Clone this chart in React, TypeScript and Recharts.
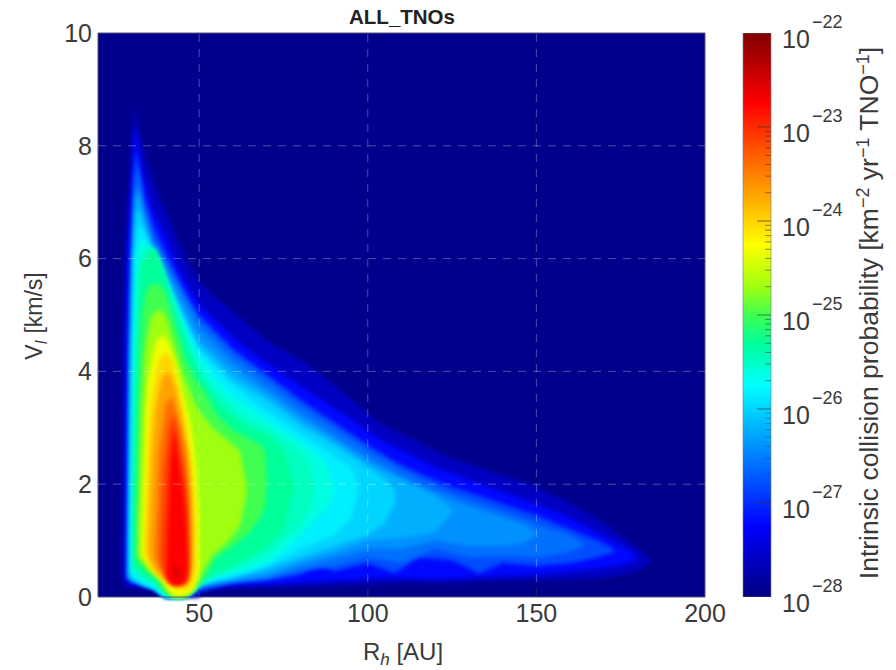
import {
  Area,
  Bar,
  ComposedChart,
  ReferenceArea,
  ReferenceLine,
  XAxis,
  YAxis,
} from 'recharts'

const FONT = '"Liberation Sans", Arial, sans-serif'
const INK = '#3a3a3a'

const rTicks = [50, 100, 150, 200]
const vTicks = [0, 2, 4, 6, 8, 10]
const rGrid = [50, 100, 150]
const vGrid = [2, 4, 6, 8]
const decades = [-28, -27, -26, -25, -24, -23, -22]
const minorOffsets = [0.301, 0.477, 0.602, 0.699, 0.778, 0.845, 0.903, 0.954]
const minorDecades = [-27, -26, -25, -24]

// contour bands, outermost first (log10 probability)
const rA = [27, 27.5, 28, 29, 30, 30.6, 32, 34, 38, 39.5, 40, 41, 46, 49.5, 50, 52, 59, 70, 80, 85, 90, 103, 115, 123, 135, 148, 158, 165, 172, 177, 181, 184]
const hiA = [0.9, 4.9, 6, 7.2, 8, 8.75, 8.3, 7.8, 7.1, 6.9, 6.85, 6.7, 6, 5.65, 5.6, 5.45, 5.1, 4.55, 4.2, 4, 3.75, 3.1, 2.75, 2.5, 2.25, 2, 1.72, 1.5, 1.22, 1, 0.82, 0.65]
const loA = [0.5, 0.3, 0.18, 0.17, 0.17, 0.17, 0.16, 0.15, 0.14, 0.12, 0, 0, 0, 0, 0, 0.13, 0.16, 0.17, 0.18, 0.2, 0.2, 0.24, 0.26, 0.24, 0.28, 0.3, 0.3, 0.32, 0.36, 0.42, 0.5, 0.63]

const rB = [28, 28.5, 29, 30, 30.8, 31.5, 33, 36, 39, 40, 44, 49.5, 50.5, 55, 65, 75, 85, 95, 105, 120, 135, 150, 160, 168, 174, 178, 180]
const hiB = [0.8, 5, 6.2, 7.2, 8.3, 8.2, 7.5, 6.9, 6.5, 6.4, 5.8, 5.25, 5.15, 4.9, 4.35, 3.95, 3.55, 3.15, 2.75, 2.3, 1.97, 1.65, 1.4, 1.15, 0.95, 0.82, 0.7]
const loB = [0.4, 0.28, 0.24, 0.22, 0.22, 0.22, 0.2, 0.18, 0.15, 0, 0, 0, 0.16, 0.2, 0.22, 0.24, 0.28, 0.3, 0.34, 0.32, 0.36, 0.4, 0.45, 0.5, 0.55, 0.62, 0.68]

const rC = [28.5, 29, 29.5, 30.5, 31.2, 32, 34, 37, 40, 45, 50, 60, 70, 80, 85, 90, 100, 108, 115, 125, 133, 140, 150, 160, 168, 173]
const hiC = [0.7, 4.5, 6, 7.4, 7.9, 7.7, 7, 6.5, 6.1, 5.5, 5, 4.4, 3.95, 3.5, 3.3, 3.1, 2.7, 2.4, 2.2, 1.95, 1.8, 1.65, 1.45, 1.2, 1, 0.85]
const loC = [0.35, 0.3, 0.28, 0.26, 0.25, 0.24, 0.2, 0.16, 0, 0, 0.1, 0.25, 0.3, 0.4, 0.6, 0.45, 0.6, 0.42, 0.7, 0.65, 0.42, 0.6, 0.55, 0.6, 0.7, 0.8]

const rC2 = [29, 29.5, 30.2, 31, 31.5, 33, 36, 40, 45, 50, 60, 70, 80, 90, 100, 110, 120, 130, 140, 150, 160, 164]
const hiC2 = [0.75, 4.4, 5.8, 7.2, 7.6, 7.1, 6.4, 6, 5.4, 4.9, 4.3, 3.85, 3.4, 3, 2.6, 2.25, 1.95, 1.72, 1.52, 1.3, 1.1, 0.95]
const loC2 = [0.36, 0.32, 0.29, 0.27, 0.26, 0.24, 0.18, 0, 0, 0.15, 0.27, 0.33, 0.45, 0.55, 0.7, 0.6, 0.85, 0.7, 0.72, 0.7, 0.8, 0.9]

const rD = [29, 29.5, 30, 31, 31.6, 33, 36, 40, 45, 50, 60, 70, 80, 90, 100, 110, 120, 130, 140, 146, 150]
const hiD = [0.8, 4.2, 5.5, 7, 7.3, 6.9, 6.3, 5.85, 5.3, 4.75, 4.15, 3.7, 3.25, 2.85, 2.45, 2.12, 1.85, 1.62, 1.42, 1.3, 1.15]
const loD = [0.38, 0.34, 0.3, 0.28, 0.27, 0.25, 0.18, 0, 0, 0.2, 0.28, 0.35, 0.55, 0.7, 0.85, 0.85, 1, 0.9, 0.9, 0.95, 1.1]

const rD2 = [29.3, 29.8, 30.4, 31.2, 31.8, 33, 36, 40, 45, 50, 60, 70, 80, 90, 100, 110, 120, 125]
const hiD2 = [0.9, 4.1, 5.8, 7, 7.2, 6.8, 6.2, 5.75, 5.15, 4.55, 4, 3.6, 3.15, 2.78, 2.38, 2.08, 1.8, 1.55]
const loD2 = [0.36, 0.33, 0.3, 0.28, 0.27, 0.22, 0.16, 0, 0, 0.22, 0.32, 0.42, 0.62, 0.8, 1, 1.05, 1.15, 1.5]

const rE = [29.5, 30, 30.6, 31.4, 32, 34, 37, 40, 45, 50, 60, 70, 80, 90, 100, 105, 108]
const hiE = [1, 4, 6, 6.8, 6.9, 6.5, 6.05, 5.6, 5, 4.45, 3.85, 3.5, 3.05, 2.7, 2.3, 2.1, 1.9]
const loE = [0.35, 0.32, 0.3, 0.28, 0.26, 0.2, 0.14, 0, 0, 0.25, 0.35, 0.5, 0.7, 0.9, 1.1, 1.3, 1.65]

const rE2 = [29.8, 30.4, 31, 31.8, 32.5, 34, 37, 40, 45, 50, 60, 70, 80, 90, 95, 97]
const hiE2 = [1, 4, 6, 6.5, 6.6, 6.4, 6, 5.5, 4.9, 4.35, 3.75, 3.3, 2.9, 2.5, 2.3, 2]
const loE2 = [0.4, 0.36, 0.33, 0.3, 0.27, 0.22, 0.16, 0, 0, 0.23, 0.36, 0.55, 0.85, 1.1, 1.4, 1.85]

const rF = [30, 30.6, 31.5, 32.5, 34, 37, 39, 42, 46, 50, 55, 60, 65, 70, 75, 80, 85, 88, 90]
const hiF = [1, 4, 6, 6.3, 6.3, 6, 5.8, 5.4, 4.8, 4.25, 3.85, 3.55, 3.35, 3.15, 2.95, 2.75, 2.55, 2.3, 2]
const loF = [0.45, 0.42, 0.38, 0.33, 0.28, 0.2, 0.08, 0, 0, 0.2, 0.35, 0.42, 0.5, 0.6, 0.8, 1.1, 1.4, 1.6, 1.9]

const rF2 = [30.3, 31, 32, 33, 35, 37, 39, 42, 46, 50, 55, 60, 65, 70, 75, 80, 83, 84]
const hiF2 = [1.1, 3.8, 5.8, 6.1, 6.2, 6.1, 5.85, 5.3, 4.65, 4.05, 3.65, 3.35, 3.15, 3, 2.8, 2.6, 2.3, 2]
const loF2 = [0.5, 0.45, 0.4, 0.35, 0.3, 0.22, 0.09, 0, 0, 0.22, 0.38, 0.48, 0.6, 0.75, 1, 1.25, 1.6, 1.85]

const rG = [30.6, 31.2, 32, 33, 35, 37, 39, 42, 46, 50, 55, 60, 65, 70, 75, 78]
const hiG = [1.2, 3.6, 5.4, 5.9, 6.1, 6.2, 5.9, 5.2, 4.5, 3.95, 3.5, 3.2, 3, 2.9, 2.6, 2]
const loG = [0.55, 0.5, 0.45, 0.4, 0.33, 0.25, 0.1, 0, 0, 0.25, 0.42, 0.55, 0.7, 0.9, 1.2, 1.9]

const rH = [31.2, 32, 33, 34.5, 36, 38, 40, 42, 46, 49, 52, 55, 60, 65, 68, 69.5, 70]
const hiH = [1.4, 3.6, 5, 5.45, 5.55, 5.55, 5.4, 5, 4.2, 3.85, 3.6, 3.25, 2.95, 2.8, 2.7, 2.6, 2.1]
const loH = [0.65, 0.6, 0.55, 0.45, 0.38, 0.28, 0.1, 0, 0, 0.12, 0.38, 0.7, 0.9, 1.15, 1.4, 1.6, 2]

const rI = [32, 33, 34, 36, 38, 40, 42, 45, 48, 50, 54, 58, 62, 64]
const hiI = [1.2, 3.4, 4.4, 5, 5.1, 5, 4.6, 4, 3.55, 3.3, 3, 2.8, 2.6, 2]
const loI = [0.7, 0.65, 0.55, 0.42, 0.32, 0.15, 0, 0, 0.15, 0.35, 0.75, 0.95, 1.25, 1.8]

const rJ = [33, 34, 35, 37, 39, 41, 43, 45, 47, 48, 49, 50]
const hiJ = [1, 3.2, 3.9, 4.5, 4.65, 4.5, 4.15, 3.65, 3.2, 2.9, 2.4, 1.5]
const loJ = [0.7, 0.65, 0.55, 0.42, 0.3, 0.1, 0, 0, 0.05, 0.1, 0.2, 0.4]

const rK = [33.8, 35, 36, 38, 40, 42, 44, 46, 47.5, 48.5, 49]
const hiK = [1, 2.9, 3.6, 4.2, 4.35, 4.2, 3.7, 3.1, 2.5, 1.9, 1.2]
const loK = [0.75, 0.6, 0.5, 0.38, 0.28, 0.18, 0.13, 0.13, 0.18, 0.3, 0.5]

const rL = [35, 36, 37, 39, 41, 43, 45, 46.5, 47.5, 48]
const hiL = [1, 2.5, 3.3, 3.9, 4, 3.7, 3.1, 2.6, 2, 1.2]
const loL = [0.75, 0.6, 0.48, 0.35, 0.28, 0.22, 0.2, 0.22, 0.35, 0.6]

const rM = [37, 38, 40, 42, 44, 45.5, 46.5, 47.3]
const hiM = [1, 2.5, 3.4, 3.55, 3.1, 2.7, 2.2, 1.3]
const loM = [0.7, 0.55, 0.35, 0.27, 0.25, 0.25, 0.33, 0.6]

const rN = [38.5, 39.5, 41, 42.5, 44, 45.5, 46.5, 47]
const hiN = [1, 2.2, 3, 3.25, 2.8, 2.3, 1.8, 1]
const loN = [0.6, 0.45, 0.28, 0.22, 0.22, 0.24, 0.3, 0.55]

const rO = [40.3, 40.8, 41.5, 42.6, 43.5, 45, 46, 46.6]
const hiO = [0.5, 1.5, 2.4, 3, 2.6, 2, 1.5, 0.6]
const loO = [0.35, 0.28, 0.23, 0.2, 0.2, 0.22, 0.28, 0.4]

const rP = [42.3, 43.3, 44.4]
const hiP = [0.44, 0.6, 0.44]
const loP = [0.38, 0.3, 0.38]

const bandR = [rA, rB, rC, rC2, rD, rD2, rE, rE2, rF, rF2, rG, rH, rI, rJ, rK, rL, rM, rN, rO, rP]
const bandHi = [hiA, hiB, hiC, hiC2, hiD, hiD2, hiE, hiE2, hiF, hiF2, hiG, hiH, hiI, hiJ, hiK, hiL, hiM, hiN, hiO, hiP]
const bandLo = [loA, loB, loC, loC2, loD, loD2, loE, loE2, loF, loF2, loG, loH, loI, loJ, loK, loL, loM, loN, loO, loP]
const bandColors = [
  '#0000c3', '#0008ff', '#004dff', '#0070ff', '#0091ff', '#00b0ff', '#00d5ff', '#00f0ff',
  '#00ffe0', '#00ffc0', '#00ff99', '#40ff50', '#a0ff10', '#f0ff00', '#ffd500', '#ffa200',
  '#ff6e00', '#ff3b00', '#ff0000', '#d80000',
]

const bands = bandR.map((rs, i) =>
  rs.map((r, j) => ({ r, v: [bandLo[i][j], bandHi[i][j]] })),
)
const backdrop = [
  { r: 20, v: [0, 10] },
  { r: 200, v: [0, 10] },
]

const jetStops = ['#000080', '#0000ff', '#00ffff', '#00ff99', '#40ff50', '#a0ff10', '#ffff00', '#ff0000', '#800000']
const jetOffsets = ['0%', '12.5%', '37.5%', '45%', '50%', '55%', '62.5%', '87.5%', '100%']
const colorbarData = [{ name: 'p', range: [-28, -22] }]
const colorbarTicks = [
  ...decades,
  ...minorDecades.flatMap((d) => minorOffsets.map((m) => d + m)),
]

function ColorbarTick({ x, y, payload }: any) {
  const major = Number.isInteger(payload.value)
  const faint = payload.value < -26
  if (!major) {
    return (
      <line x1={x - 6} x2={x} y1={y} y2={y} stroke="#333" strokeOpacity={faint ? 0.35 : 0.55} />
    )
  }
  const edge = payload.value === -28 || payload.value === -22
  return (
    <g>
      {!edge && <line x1={x - 14} x2={x} y1={y} y2={y} stroke="#333" strokeOpacity={0.65} />}
      <text x={x + 11} y={y + 15} fontFamily={FONT} fontSize={25} fill={INK}>
        10
      </text>
      <text x={x + 41} y={y - 5} fontFamily={FONT} fontSize={18} fill={INK}>
        {'\u2212' + Math.abs(payload.value)}
      </text>
    </g>
  )
}

function App() {
  return (
    <div style={{ position: 'absolute', left: 0, top: 0, width: 896, height: 670, background: '#fff' }}>
      <style>{`.band { filter: blur(2.2px); }`}</style>
      <div style={{ position: 'absolute', left: 0, top: 0 }}>
        <ComposedChart
          width={735}
          height={670}
          margin={{ top: 33, right: 30, bottom: 0, left: 38 }}
        >
          <XAxis
            type="number"
            dataKey="r"
            domain={[20, 200]}
            ticks={rTicks}
            allowDataOverflow
            axisLine={false}
            tickLine={false}
            tickSize={-7}
            tickMargin={14}
            height={73}
            tick={{ fontFamily: FONT, fontSize: 25, fill: INK }}
          />
          <YAxis
            type="number"
            domain={[0, 10]}
            ticks={vTicks}
            allowDataOverflow
            axisLine={false}
            tickLine={false}
            tickSize={-7}
            tickMargin={13}
            width={60}
            tick={{ fontFamily: FONT, fontSize: 25, fill: INK }}
          />
          <Area
            data={backdrop}
            dataKey="v"
            type="linear"
            fill="#00008c"
            fillOpacity={1}
            stroke="none"
            dot={false}
            activeDot={false}
            isAnimationActive={false}
          />
          {bands.map((rows, i) => (
            <Area
              key={i}
              className="band"
              data={rows}
              dataKey="v"
              type="linear"
              fill={bandColors[i]}
              fillOpacity={1}
              stroke="none"
              dot={false}
              activeDot={false}
              isAnimationActive={false}
            />
          ))}
          {rGrid.map((r) => (
            <ReferenceLine key={r} x={r} stroke="#ffffff" strokeOpacity={0.3} strokeDasharray="8 7" />
          ))}
          {vGrid.map((v) => (
            <ReferenceLine key={v} y={v} stroke="#ffffff" strokeOpacity={0.3} strokeDasharray="8 7" />
          ))}
          {rGrid.map((r) => (
            <ReferenceLine
              key={'tick' + r}
              segment={[{ x: r, y: 0 }, { x: r, y: 0.14 }]}
              stroke="#111133"
              strokeOpacity={0.8}
            />
          ))}
          <ReferenceArea x1={20} x2={200} y1={0} y2={10} fill="none" stroke="#555577" strokeWidth={1} />
          <text x={402} y={24} textAnchor="middle" fontFamily={FONT} fontSize={20.5} fontWeight="bold" fill="#222">
            ALL_TNOs
          </text>
          <text x={403} y={660} textAnchor="middle" fontFamily={FONT} fontSize={24} fill={INK}>
            R<tspan dy={5} fontSize={17} fontStyle="italic">h</tspan>
            <tspan dy={-5}> [AU]</tspan>
          </text>
          <text
            transform="translate(42 316) rotate(-90)"
            textAnchor="middle"
            fontFamily={FONT}
            fontSize={23}
            fill={INK}
          >
            V<tspan dy={5} fontSize={16} fontStyle="italic">I</tspan>
            <tspan dy={-5}> [km/s]</tspan>
          </text>
        </ComposedChart>
      </div>
      <div style={{ position: 'absolute', left: 735, top: 0 }}>
        <ComposedChart
          width={161}
          height={670}
          data={colorbarData}
          barCategoryGap={0}
          margin={{ top: 33, right: 0, bottom: 73, left: 8 }}
        >
          <defs>
            <linearGradient id="jetBar" x1="0" y1="1" x2="0" y2="0">
              {jetStops.map((c, i) => (
                <stop key={c} offset={jetOffsets[i]} stopColor={c} />
              ))}
            </linearGradient>
          </defs>
          <XAxis dataKey="name" hide />
          <YAxis
            orientation="right"
            type="number"
            domain={[-28, -22]}
            ticks={colorbarTicks}
            interval={0}
            allowDataOverflow
            axisLine={false}
            tickLine={false}
            tickSize={0}
            tickMargin={0}
            width={125}
            tick={<ColorbarTick />}
          />
          <Bar dataKey="range" fill="url(#jetBar)" stroke="#7a7a9a" strokeOpacity={0.6} isAnimationActive={false} />
          <text
            transform="translate(143 313) rotate(-90)"
            textAnchor="middle"
            fontFamily={FONT}
            fontSize={26.5}
            fill={INK}
          >
            Intrinsic collision probability [km
            <tspan dy={-9} fontSize={18}>{'\u22122'}</tspan>
            <tspan dy={9}> yr</tspan>
            <tspan dy={-9} fontSize={18}>{'\u22121'}</tspan>
            <tspan dy={9}> TNO</tspan>
            <tspan dy={-9} fontSize={18}>{'\u22121'}</tspan>
            <tspan dy={9}>]</tspan>
          </text>
        </ComposedChart>
      </div>
    </div>
  )
}

export default App
